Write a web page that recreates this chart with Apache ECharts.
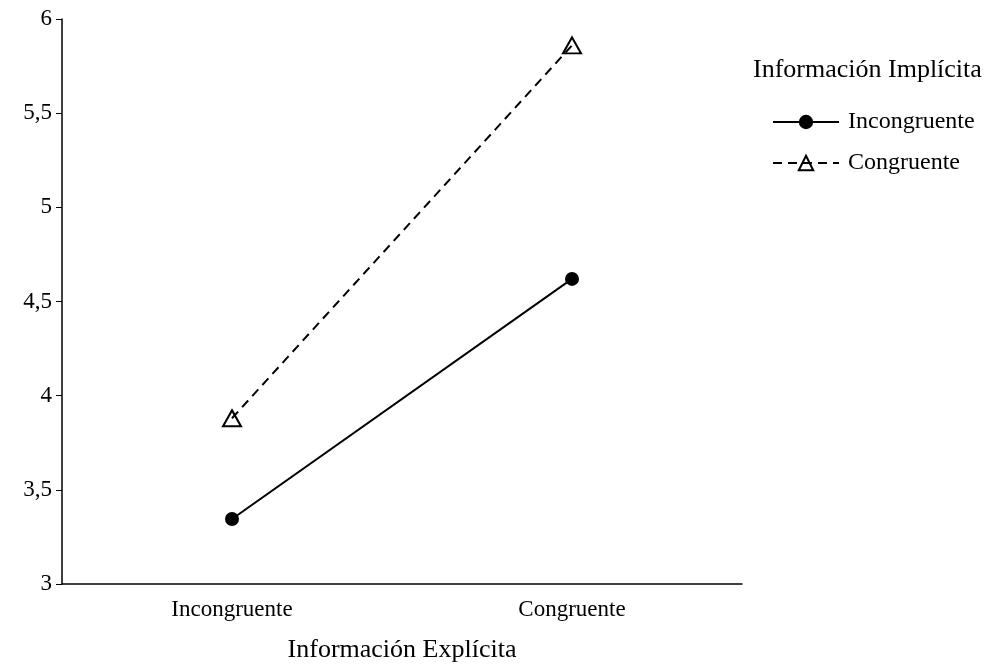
<!DOCTYPE html>
<html>
<head>
<meta charset="utf-8">
<script src="https://cdn.jsdelivr.net/npm/echarts@6/dist/echarts.min.js"></script>
<style>
  html, body { margin: 0; padding: 0; background: #fff; }
  #chart { width: 990px; height: 664px; }
</style>
</head>
<body>
<div id="chart"></div>
<script>
const categories = ['Incongruente', 'Congruente'];
const incongruente = [3.345, 4.62];
const congruente = [3.88, 5.86];
const yTicks = [3, 3.5, 4, 4.5, 5, 5.5, 6];

const font = '"Liberation Serif", "Times New Roman", serif';
const chart = echarts.init(document.getElementById('chart'));

chart.setOption({
  backgroundColor: '#fff',
  animation: false,
  textStyle: { fontFamily: font, color: '#000' },
  title: {
    text: 'Información Implícita',
    left: 748,
    top: 52,
    textStyle: { fontFamily: font, fontSize: 26, fontWeight: 'normal', color: '#000' }
  },
  legend: {
    orient: 'vertical',
    left: 767,
    top: 105,
    itemWidth: 66,
    itemHeight: 18,
    itemGap: 17,
    textStyle: { fontFamily: font, fontSize: 24, color: '#000', padding: [0, 0, 0, 4] },
    data: ['Incongruente', 'Congruente']
  },
  grid: { left: 62, right: 248, top: 19, bottom: 80, outerBoundsMode: 'none' },
  xAxis: {
    type: 'category',
    data: categories,
    name: 'Información Explícita',
    nameLocation: 'middle',
    nameGap: 53,
    nameTextStyle: { fontFamily: font, fontSize: 26, color: '#000' },
    axisLine: { lineStyle: { color: '#000', width: 1.5 } },
    axisTick: { show: false },
    axisLabel: { fontFamily: font, fontSize: 23, color: '#000', margin: 14 }
  },
  yAxis: {
    type: 'value',
    min: yTicks[0],
    max: yTicks[yTicks.length - 1],
    interval: 0.5,
    axisLine: { show: true, lineStyle: { color: '#000', width: 1.5 } },
    axisTick: { show: true, length: 6, lineStyle: { color: '#000' } },
    splitLine: { show: false },
    axisLabel: {
      fontFamily: font, fontSize: 23, color: '#000', margin: 10,
      formatter: v => String(v).replace('.', ',')
    }
  },
  series: [
    {
      name: 'Incongruente',
      type: 'line',
      data: incongruente,
      symbol: 'circle',
      symbolSize: 14,
      lineStyle: { color: '#000', width: 2 },
      itemStyle: { color: '#000' }
    },
    {
      name: 'Congruente',
      type: 'line',
      data: congruente,
      symbol: 'triangle',
      symbolSize: [18, 16],
      lineStyle: { color: '#000', width: 2, type: [9, 6] },
      itemStyle: { color: 'rgba(255,255,255,0)', borderColor: '#000', borderWidth: 2 }
    }
  ]
});
</script>
</body>
</html>
